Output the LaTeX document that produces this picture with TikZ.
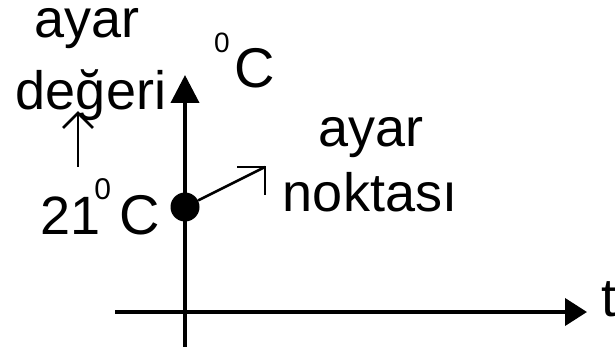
\documentclass[tikz,border=0pt]{standalone}
\usepackage{fontspec}
\setmainfont{Liberation Sans}
\usetikzlibrary{arrows.meta}
\begin{document}
\begin{tikzpicture}[x=1pt,y=-1pt,
  lbl/.style={inner sep=0pt,anchor=base,font=\fontsize{54}{60}\selectfont},
  ax/.style={line width=4pt},
  thinln/.style={line width=2.5pt,line join=miter}]
\useasboundingbox (0,0) rectangle (615,347);
% axes
\coordinate (ybot) at (185,347);
\coordinate (ytop) at (185,75);
\coordinate (xl) at (115,312);
\coordinate (xr) at (587,312);
\draw[ax,-{Triangle[length=28pt,width=28pt]}] (ybot) -- (ytop);
\draw[ax,-{Triangle[length=22pt,width=27pt]}] (xl) -- (xr);
% set point
\node[circle,fill=black,inner sep=0pt,minimum size=29pt] (dot) at (185,207) {};
\coordinate (tip) at (265,167);
\coordinate (h1) at (237,167);
\coordinate (h2) at (265,195);
\draw[thinln] (dot) -- (tip);
\draw[thinln] (h1) -- (tip) -- (h2);
% small arrow
\coordinate (s0) at (78,167);
\coordinate (s1) at (78,113);
\coordinate (sa) at (63,128);
\coordinate (sb) at (93,128);
\draw[thinln] (s0) -- (s1);
\draw[thinln] (sa) -- (s1) -- (sb);
% texts
\node[lbl] (ayar1) at (87,38) {ayar};
\node[lbl] (degeri) at (91,110) {değeri};
\node[lbl,anchor=base west] (c1) at (214,88)
  {\raisebox{35pt}{\fontsize{28}{30}\selectfont 0}\kern4.4pt{\fontsize{56}{60}\selectfont C}};
\node[lbl,anchor=base west] (c2) at (40,235)
  {21\kern-6pt\raisebox{35pt}{\fontsize{30}{30}\selectfont 0}\kern8.3pt{\fontsize{56}{60}\selectfont C}};
\node[lbl] (ayar2) at (371,147) {ayar};
\node[lbl] (nokta) at (370,212) {noktası};
\node[lbl,anchor=base west] (t) at (601,316) {t};
\end{tikzpicture}
\end{document}
